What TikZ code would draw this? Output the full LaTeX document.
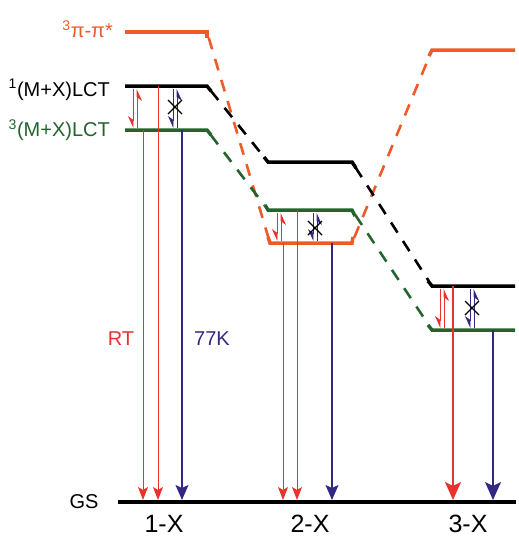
\documentclass[tikz,border=0pt]{standalone}
\usepackage{fontspec}
\setmainfont{Liberation Sans}
\usetikzlibrary{arrows.meta,calc}
\definecolor{cOr}{RGB}{240,90,40}
\definecolor{cGr}{RGB}{35,100,45}
\definecolor{cRd}{RGB}{232,50,45}
\definecolor{cBl}{RGB}{50,40,130}
\begin{document}
\begin{tikzpicture}[x=1pt,y=-1pt,
  level/.style={line width=3.5pt},
  conn/.style={line width=2.6pt, dash pattern=on 12pt off 10pt, shorten <=6pt, shorten >=6pt},
  emR/.style={cRd, line width=1pt, -{Stealth[length=13pt,width=10pt,inset=3pt]}},
  emRb/.style={cRd, line width=2pt, -{Stealth[length=18pt,width=16pt,inset=4pt]}},
  emB/.style={cBl, line width=1.6pt, -{Stealth[length=15pt,width=13pt,inset=3pt]}},
  emBb/.style={cBl, line width=1.6pt, -{Stealth[length=18pt,width=16pt,inset=4pt]}},
  iscdn/.style={line width=0.8pt, -{Stealth[right,length=11pt,width=10pt]}},
  iscup/.style={line width=0.8pt, -{Stealth[right,length=11pt,width=10pt]}},
  xmark/.style={line width=1.4pt, black},
  lab/.style={font=\fontsize{20}{22}\selectfont, inner sep=0pt},
  blab/.style={font=\fontsize{25}{26}\selectfont, inner sep=0pt}
]
\useasboundingbox (0,0) rectangle (519,539);
% level end points
\coordinate (o1a) at (125,32);  \coordinate (o1b) at (207,32);
\coordinate (k1a) at (125,86);  \coordinate (k1b) at (207,86);
\coordinate (g1a) at (125,130); \coordinate (g1b) at (207,130);
\coordinate (k2a) at (268,162); \coordinate (k2b) at (352,162);
\coordinate (g2a) at (268,210); \coordinate (g2b) at (352,210);
\coordinate (o2a) at (270,243); \coordinate (o2b) at (352,243);
\coordinate (o3a) at (432,50);  \coordinate (o3b) at (515,50);
\coordinate (k3a) at (432,286); \coordinate (k3b) at (515,286);
\coordinate (g3a) at (432,330); \coordinate (g3b) at (515,330);
\coordinate (gsa) at (118,502); \coordinate (gsb) at (516,502);
% dashed connectors
\draw[conn,cOr] (o1b) -- (o2a);
\draw[conn,cOr] (o2b) -- (o3a);
\draw[conn,black] (k1b) -- (k2a);
\draw[conn,black] (k2b) -- (k3a);
\draw[conn,cGr] (g1b) -- (g2a);
\draw[conn,cGr] (g2b) -- (g3a);
% levels
\draw[level,cOr] (o1a) -- (o1b) -- ++(0,6);
\draw[level,black] (k1a) -- (k1b) -- ++(4,5);
\draw[level,cGr] (g1a) -- (g1b) -- ++(4,5);
\draw[level,black] ($(k2a)+(-4,-5)$) -- (k2a) -- (k2b) -- ++(4,6);
\draw[level,cGr] ($(g2a)+(-3,-5)$) -- (g2a) -- (g2b) -- ++(3,6);
\draw[level,cOr] ($(o2a)+(-2,-6)$) -- (o2a) -- (o2b) -- ++(1,-6);
\draw[level,cOr] ($(o3a)+(-3,6)$) -- (o3a) -- (o3b);
\draw[level,black] ($(k3a)+(-4,-5)$) -- (k3a) -- (k3b);
\draw[level,cGr] ($(g3a)+(-4,-5)$) -- (g3a) -- (g3b);
\draw[line width=4pt] (gsa) -- (gsb);
% emission arrows
\draw[emR] (143,130) -- (143,500);
\draw[emR] (158,86) -- (158,500);
\draw[emB] (182,130) -- (182,500);
\draw[emR] (283,243) -- (283,500);
\draw[emR] (297,210) -- (297,500);
\draw[emB] (332,243) -- (332,500);
\draw[emRb] (453,286) -- (453,500);
\draw[emBb] (493,330) -- (493,500);
% ISC arrows
\draw[iscdn,cRd] (133,89) -- (133,128);
\draw[iscup,cRd] (137,128) -- (137,89);
\draw[iscdn,cBl] (173,89) -- (173,128);
\draw[iscup,cBl] (177,128) -- (177,89);
\draw[iscdn,cRd] (277,213) -- (277,241);
\draw[iscup,cRd] (281,241) -- (281,213);
\draw[iscdn,cBl] (313,213) -- (313,241);
\draw[iscup,cBl] (317,241) -- (317,213);
\draw[iscdn,cRd] (440,289) -- (440,328);
\draw[iscup,cRd] (444,328) -- (444,289);
\draw[iscdn,cBl] (470,289) -- (470,328);
\draw[iscup,cBl] (474,328) -- (474,289);
% crosses
\draw[xmark] (168,100) -- (182,114) (168,114) -- (182,100);
\draw[xmark] (308,221) -- (322,235) (308,235) -- (322,221);
\draw[xmark] (465,301) -- (479,315) (465,315) -- (479,301);
% labels
\node[lab,cOr,anchor=east] (lpi) at (113,29) {\textsuperscript{3}π-π*};
\node[lab,black,anchor=east] (l1ct) at (110,90) {\textsuperscript{1}(M+X)LCT};
\node[lab,cGr,anchor=east] (l3ct) at (110,130) {\textsuperscript{3}(M+X)LCT};
\node[lab,cRd] (lrt) at (121,339) {RT};
\node[lab,cBl] (l77) at (212,339) {77K};
\node[lab,black] (lgs) at (84,502) {GS};
\node[blab] (x1) at (164,524) {1-X};
\node[blab] (x2) at (310,524) {2-X};
\node[blab] (x3) at (468,524) {3-X};
\end{tikzpicture}
\end{document}
